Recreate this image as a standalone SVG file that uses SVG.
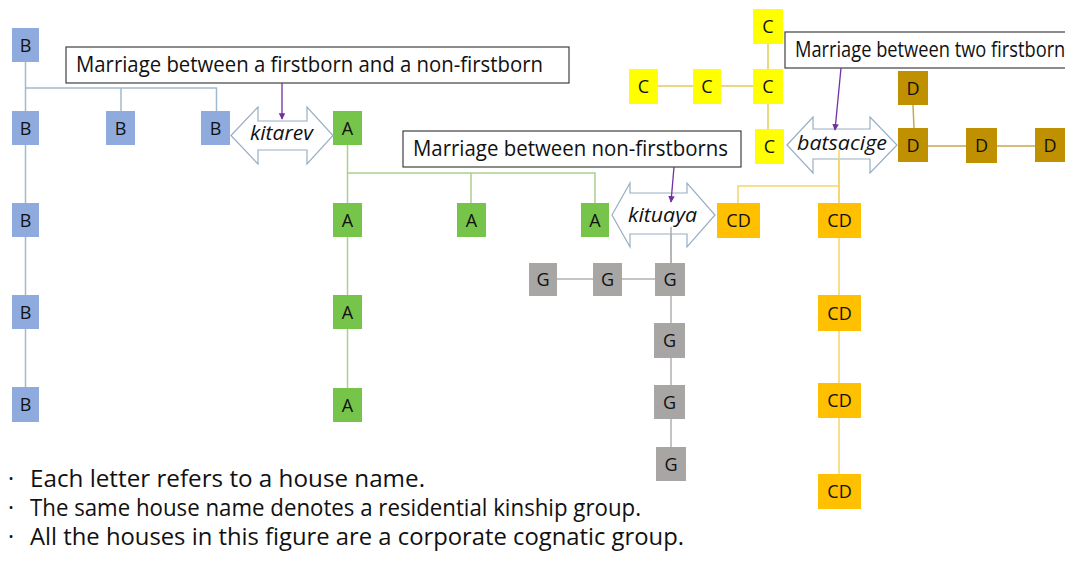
<svg xmlns="http://www.w3.org/2000/svg" width="1072" height="563" viewBox="0 0 1072 563">
  <style>
    text { font-family: "Open Sans", "Liberation Sans", sans-serif; fill: #111; }
    .lbl { font-size: 18px; text-anchor: middle; }
    .note { font-size: 21px; }
    .bul { font-size: 23px; }
    .kin { font-size: 20px; font-style: italic; }
    .callout { fill: #fff; stroke: #404040; stroke-width: 1.2; }
    .dbl { fill: #fff; stroke: #98AEC4; stroke-width: 1.2; stroke-linejoin: miter; }
    .ptr { stroke: #7030A0; stroke-width: 1.3; fill: none; marker-end: url(#tip); }
    .b { fill: #8FAADC; }
    .a { fill: #77C44A; }
    .c { fill: #FFFF00; }
    .d { fill: #BF9000; }
    .cd { fill: #FFC000; }
    .g { fill: #A8A5A5; }
    .lb { stroke: #A0BBD0; stroke-width: 1.5; fill: none; }
    .la { stroke: #A9D18E; stroke-width: 1.5; fill: none; }
    .lc { stroke: #E3CC55; stroke-width: 1.5; fill: none; }
    .ld { stroke: #C9A84E; stroke-width: 1.5; fill: none; }
    .lcd { stroke: #F3D66A; stroke-width: 1.5; fill: none; }
    .lg { stroke: #B2B0B0; stroke-width: 1.5; fill: none; }
  </style>
  <defs>
    <marker id="tip" viewBox="0 0 10 10" refX="9" refY="5" markerWidth="5" markerHeight="5" orient="auto">
      <path d="M0,0 L10,5 L0,10 z" fill="#7030A0"/>
    </marker>
    <clipPath id="frame"><rect x="0" y="0" width="1065" height="563"/></clipPath>
  </defs>
  <rect width="1072" height="563" fill="#fff"/>

  <g clip-path="url(#frame)">
    <!-- kinship lines -->
    <g id="connectors">
      <!-- house B -->
      <path class="lb" d="M25.5,62 V387 M25.5,88 H216.5 V111 M121,88 V111"/>
      <!-- house A -->
      <path class="la" d="M347.5,145 V388 M347.5,173 H595 V203 M471,173 V203"/>
      <!-- house C -->
      <path class="lc" d="M768,44 V129 M658,86 H753"/>
      <!-- house D -->
      <path class="ld" d="M913,105 L914,128 M928,146 H1035"/>
      <!-- house CD -->
      <path class="lcd" d="M839,150 V474 M839,186 H738 V203"/>
      <!-- house G -->
      <path class="lg" d="M671,227 V447 M557,279 H655"/>
    </g>

    <!-- B -->
    <g id="b1"><rect class="b" x="12" y="28" width="27" height="34"/><text class="lbl" x="25.5" y="51.5">B</text></g>
    <g id="b2"><rect class="b" x="12" y="111" width="27" height="34"/><text class="lbl" x="25.5" y="134.5">B</text></g>
    <g id="b3"><rect class="b" x="106" y="111" width="29" height="34"/><text class="lbl" x="120.5" y="134.5">B</text></g>
    <g id="b4"><rect class="b" x="201" y="111" width="29" height="34"/><text class="lbl" x="215.5" y="134.5">B</text></g>
    <g id="b5"><rect class="b" x="12" y="203" width="27" height="34"/><text class="lbl" x="25.5" y="226.5">B</text></g>
    <g id="b6"><rect class="b" x="12" y="295" width="27" height="34"/><text class="lbl" x="25.5" y="318.5">B</text></g>
    <g id="b7"><rect class="b" x="12" y="387" width="27" height="35"/><text class="lbl" x="25.5" y="411">B</text></g>

    <!-- A -->
    <g id="a1"><rect class="a" x="333" y="111" width="29" height="34"/><text class="lbl" x="347.5" y="134.5">A</text></g>
    <g id="a2"><rect class="a" x="333" y="203" width="29" height="34"/><text class="lbl" x="347.5" y="226.5">A</text></g>
    <g id="a3"><rect class="a" x="457" y="203" width="29" height="34"/><text class="lbl" x="471.5" y="226.5">A</text></g>
    <g id="a4"><rect class="a" x="581" y="203" width="28" height="34"/><text class="lbl" x="595" y="226.5">A</text></g>
    <g id="a5"><rect class="a" x="333" y="295" width="29" height="34"/><text class="lbl" x="347.5" y="318.5">A</text></g>
    <g id="a6"><rect class="a" x="333" y="388" width="29" height="34"/><text class="lbl" x="347.5" y="411.5">A</text></g>

    <!-- C -->
    <g id="c1"><rect class="c" x="753" y="9" width="30" height="35"/><text class="lbl" x="768" y="33">C</text></g>
    <g id="c2"><rect class="c" x="629" y="69" width="29" height="35"/><text class="lbl" x="643.5" y="93">C</text></g>
    <g id="c3"><rect class="c" x="693" y="69" width="28" height="35"/><text class="lbl" x="707" y="93">C</text></g>
    <g id="c4"><rect class="c" x="753" y="69" width="30" height="35"/><text class="lbl" x="768" y="93">C</text></g>
    <g id="c5"><rect class="c" x="755" y="129" width="29" height="35"/><text class="lbl" x="769.5" y="153">C</text></g>

    <!-- D -->
    <g id="d1"><rect class="d" x="898" y="71" width="30" height="34"/><text class="lbl" x="913" y="94.5">D</text></g>
    <g id="d2"><rect class="d" x="898" y="128" width="30" height="34"/><text class="lbl" x="913" y="151.5">D</text></g>
    <g id="d3"><rect class="d" x="966" y="128" width="31" height="35"/><text class="lbl" x="981.5" y="152">D</text></g>
    <g id="d4"><rect class="d" x="1035" y="128" width="31" height="34"/><text class="lbl" x="1050" y="151.5">D</text></g>

    <!-- CD -->
    <g id="cd1"><rect class="cd" x="717" y="203" width="43" height="35"/><text class="lbl" x="738.5" y="227">CD</text></g>
    <g id="cd2"><rect class="cd" x="818" y="203" width="43" height="35"/><text class="lbl" x="839.5" y="227">CD</text></g>
    <g id="cd3"><rect class="cd" x="818" y="295" width="43" height="36"/><text class="lbl" x="839.5" y="319.5">CD</text></g>
    <g id="cd4"><rect class="cd" x="818" y="383" width="43" height="35"/><text class="lbl" x="839.5" y="407">CD</text></g>
    <g id="cd5"><rect class="cd" x="818" y="474" width="43" height="35"/><text class="lbl" x="839.5" y="498">CD</text></g>

    <!-- G -->
    <g id="g1"><rect class="g" x="529" y="263" width="28" height="33"/><text class="lbl" x="543" y="286">G</text></g>
    <g id="g2"><rect class="g" x="593" y="263" width="29" height="33"/><text class="lbl" x="607.5" y="286">G</text></g>
    <g id="g3"><rect class="g" x="655" y="263" width="30" height="33"/><text class="lbl" x="670" y="286">G</text></g>
    <g id="g4"><rect class="g" x="654" y="323" width="31" height="35"/><text class="lbl" x="669.5" y="347">G</text></g>
    <g id="g5"><rect class="g" x="654" y="385" width="31" height="34"/><text class="lbl" x="669.5" y="408.5">G</text></g>
    <g id="g6"><rect class="g" x="656" y="447" width="30" height="34"/><text class="lbl" x="671" y="470.5">G</text></g>

    <!-- marriage arrows -->
    <g id="kitarev">
      <polygon class="dbl" points="231,135.5 258,107 258,121 307,121 307,107 333,135.5 307,164 307,150 258,150 258,164"/>
      <text class="kin" x="250" y="140" textLength="63" lengthAdjust="spacingAndGlyphs">kitarev</text>
    </g>
    <g id="kituaya">
      <polygon class="dbl" points="612,215 630,183 630,193 687,193 687,183 715,215 687,247 687,234 630,234 630,247"/>
      <text class="kin" x="628" y="222" textLength="69" lengthAdjust="spacingAndGlyphs">kituaya</text>
    </g>
    <g id="batsacige">
      <polygon class="dbl" points="787,145 813,117 813,129 870,129 870,117 897,145 870,173 870,159 813,159 813,173"/>
      <text class="kin" x="797" y="150" textLength="90" lengthAdjust="spacingAndGlyphs">batsacige</text>
    </g>
    <!-- grey and gold lines pass over the arrow bodies -->
    <path class="lg" d="M671,227 V263"/>
    <path class="lcd" d="M839,150 V203"/>

    <!-- callouts -->
    <g id="note-firstborn-nonfirstborn">
      <rect class="callout" x="66" y="47" width="503" height="36"/>
      <text class="note" x="76" y="72" textLength="467" lengthAdjust="spacingAndGlyphs">Marriage between a firstborn and a non-firstborn</text>
    </g>
    <g id="note-nonfirstborns">
      <rect class="callout" x="403" y="131" width="338" height="36"/>
      <text class="note" x="413" y="156" textLength="315" lengthAdjust="spacingAndGlyphs">Marriage between non-firstborns</text>
    </g>
    <g id="note-two-firstborns">
      <rect class="callout" x="785" y="32" width="300" height="36"/>
      <text class="note" x="795" y="57" textLength="279" lengthAdjust="spacingAndGlyphs">Marriage between two firstborns</text>
    </g>

    <!-- pointers from callouts to arrows -->
    <g id="pointers">
      <path class="ptr" d="M282,83 L282,119"/>
      <path class="ptr" d="M674,167 L671,202"/>
      <path class="ptr" d="M841,68 L835,130"/>
    </g>
  </g>

  <!-- legend -->
  <g id="legend">
    <text class="bul" x="8" y="487">·<tspan x="30" textLength="395" lengthAdjust="spacingAndGlyphs">Each letter refers to a house name.</tspan></text>
    <text class="bul" x="8" y="516">·<tspan x="30" textLength="611" lengthAdjust="spacingAndGlyphs">The same house name denotes a residential kinship group.</tspan></text>
    <text class="bul" x="8" y="545">·<tspan x="30" textLength="654" lengthAdjust="spacingAndGlyphs">All the houses in this figure are a corporate cognatic group.</tspan></text>
  </g>
</svg>
